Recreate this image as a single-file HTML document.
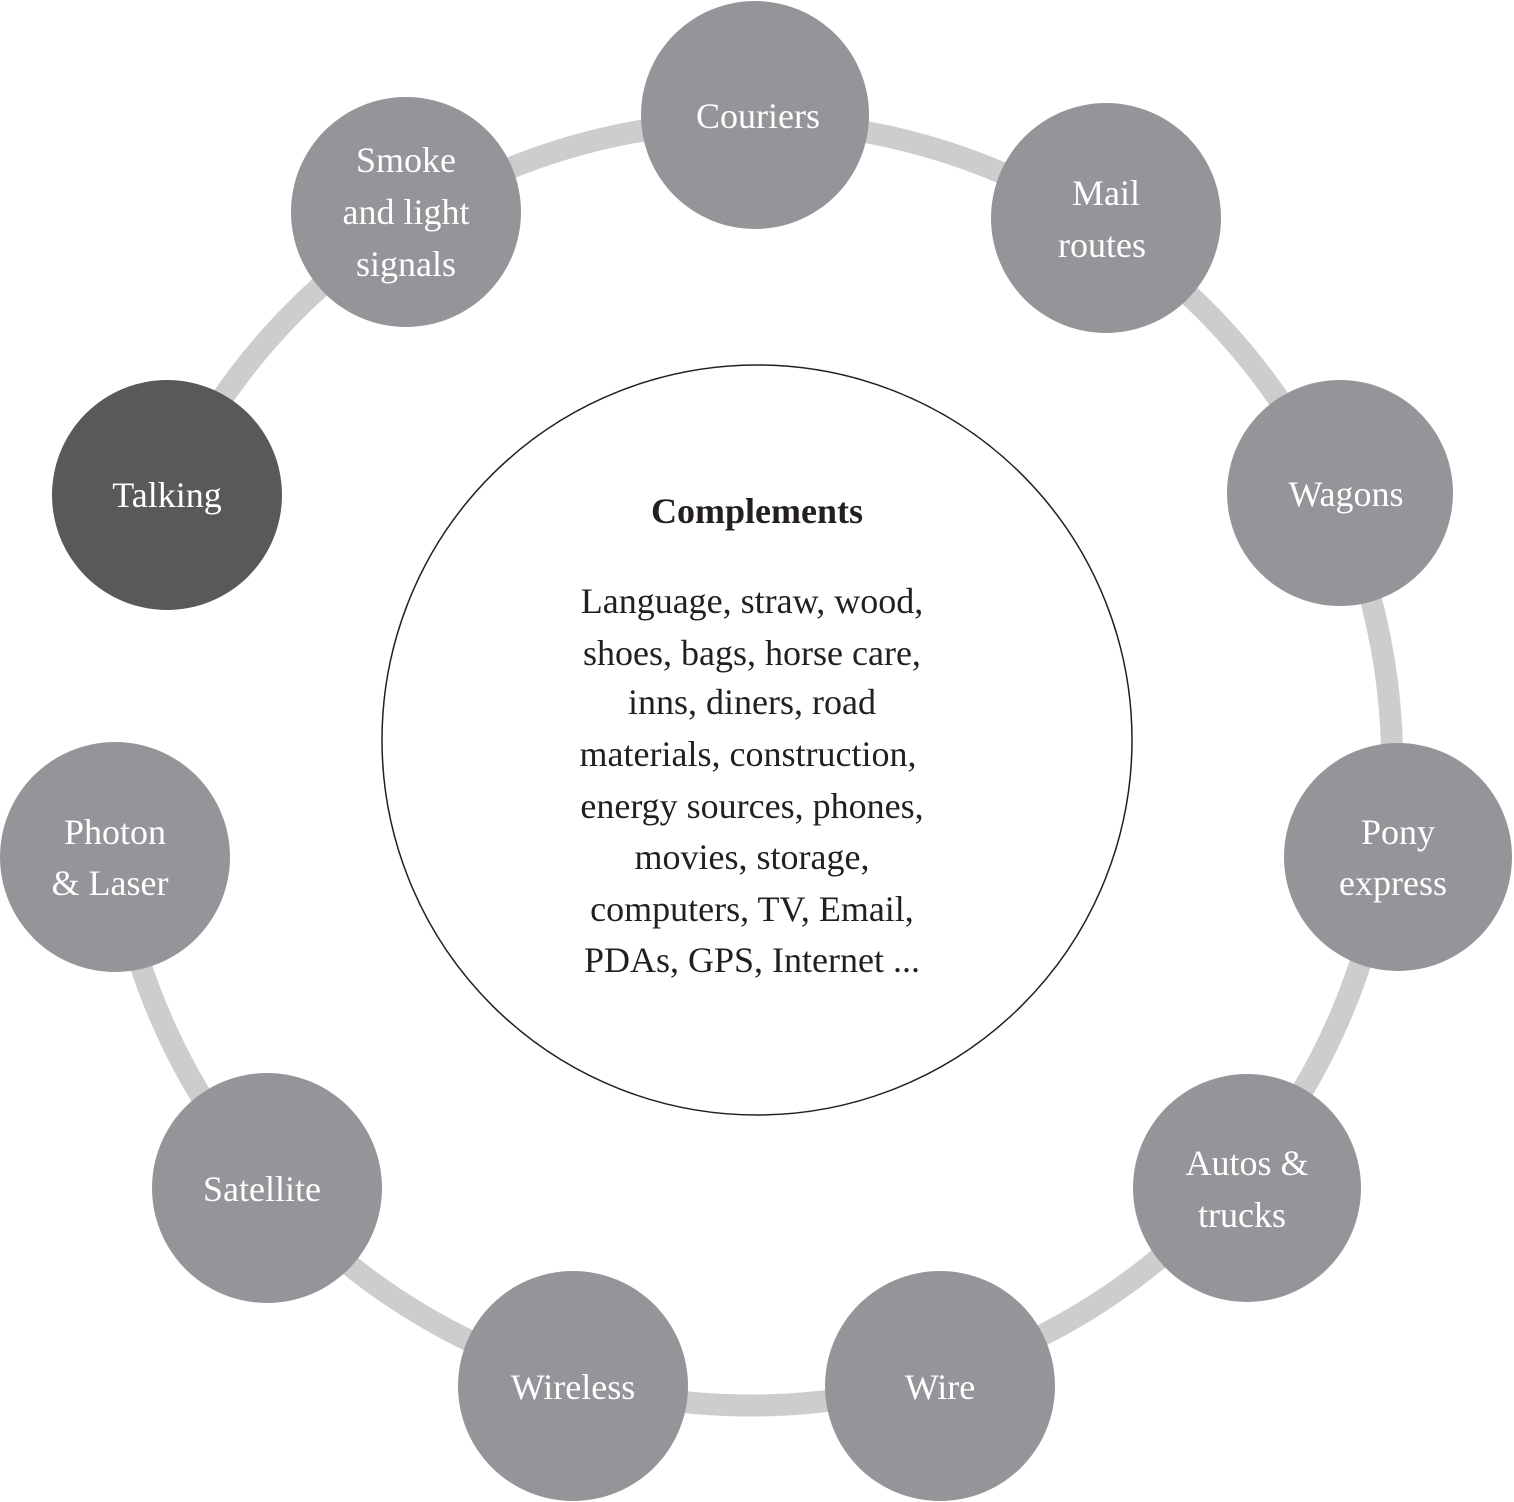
<!DOCTYPE html>
<html><head><meta charset="utf-8"><style>
html,body{margin:0;padding:0;background:#fff;}
svg{display:block;}
text{font-family:"Liberation Serif",serif;}
.n{fill:#939598;}
.t{fill:#fff;font-size:36px;text-anchor:middle;}
.c{fill:#231f20;font-size:36px;text-anchor:middle;}
</style></head><body>
<svg width="1514" height="1502" viewBox="0 0 1514 1502">
<path d="M 167,495 A 642 642 0 1 1 115,857" fill="none" stroke="#cdcdce" stroke-width="22"/>
<circle cx="757" cy="740" r="375" fill="#fff" stroke="#231f20" stroke-width="1.5"/>
<circle class="n" cx="755" cy="115" r="114"/>
<circle class="n" cx="1106" cy="218" r="115"/>
<circle class="n" cx="1340" cy="493" r="113"/>
<circle class="n" cx="1398" cy="857" r="114"/>
<circle class="n" cx="1247" cy="1188" r="114"/>
<circle class="n" cx="940" cy="1386" r="115"/>
<circle class="n" cx="573" cy="1386" r="115"/>
<circle class="n" cx="267" cy="1188" r="115"/>
<circle class="n" cx="115" cy="857" r="115"/>
<circle cx="167" cy="495" r="115" fill="#58595b"/>
<circle class="n" cx="406" cy="212" r="115"/>
<text class="t" x="758" y="128">Couriers</text>
<text class="t" x="1106" y="205">Mail</text>
<text class="t" x="1102" y="257">routes</text>
<text class="t" x="1346" y="506">Wagons</text>
<text class="t" x="1398" y="844">Pony</text>
<text class="t" x="1393" y="895">express</text>
<text class="t" x="1247" y="1175">Autos &amp;</text>
<text class="t" x="1242" y="1227">trucks</text>
<text class="t" x="940" y="1399">Wire</text>
<text class="t" x="573" y="1399">Wireless</text>
<text class="t" x="262" y="1201">Satellite</text>
<text class="t" x="115" y="844">Photon</text>
<text class="t" x="110" y="895">&amp; Laser</text>
<text class="t" x="167" y="507">Talking</text>
<text class="t" x="406" y="172">Smoke</text>
<text class="t" x="406" y="224">and light</text>
<text class="t" x="406" y="276">signals</text>
<text class="c" x="757" y="523" font-weight="bold" font-size="34">Complements</text>
<text class="c" x="752" y="613">Language, straw, wood,</text>
<text class="c" x="752" y="665">shoes, bags, horse care,</text>
<text class="c" x="752" y="714">inns, diners, road</text>
<text class="c" x="748" y="766">materials, construction,</text>
<text class="c" x="752" y="818">energy sources, phones,</text>
<text class="c" x="752" y="869">movies, storage,</text>
<text class="c" x="752" y="921">computers, TV, Email,</text>
<text class="c" x="752" y="972">PDAs, GPS, Internet ...</text>
</svg>
</body></html>
